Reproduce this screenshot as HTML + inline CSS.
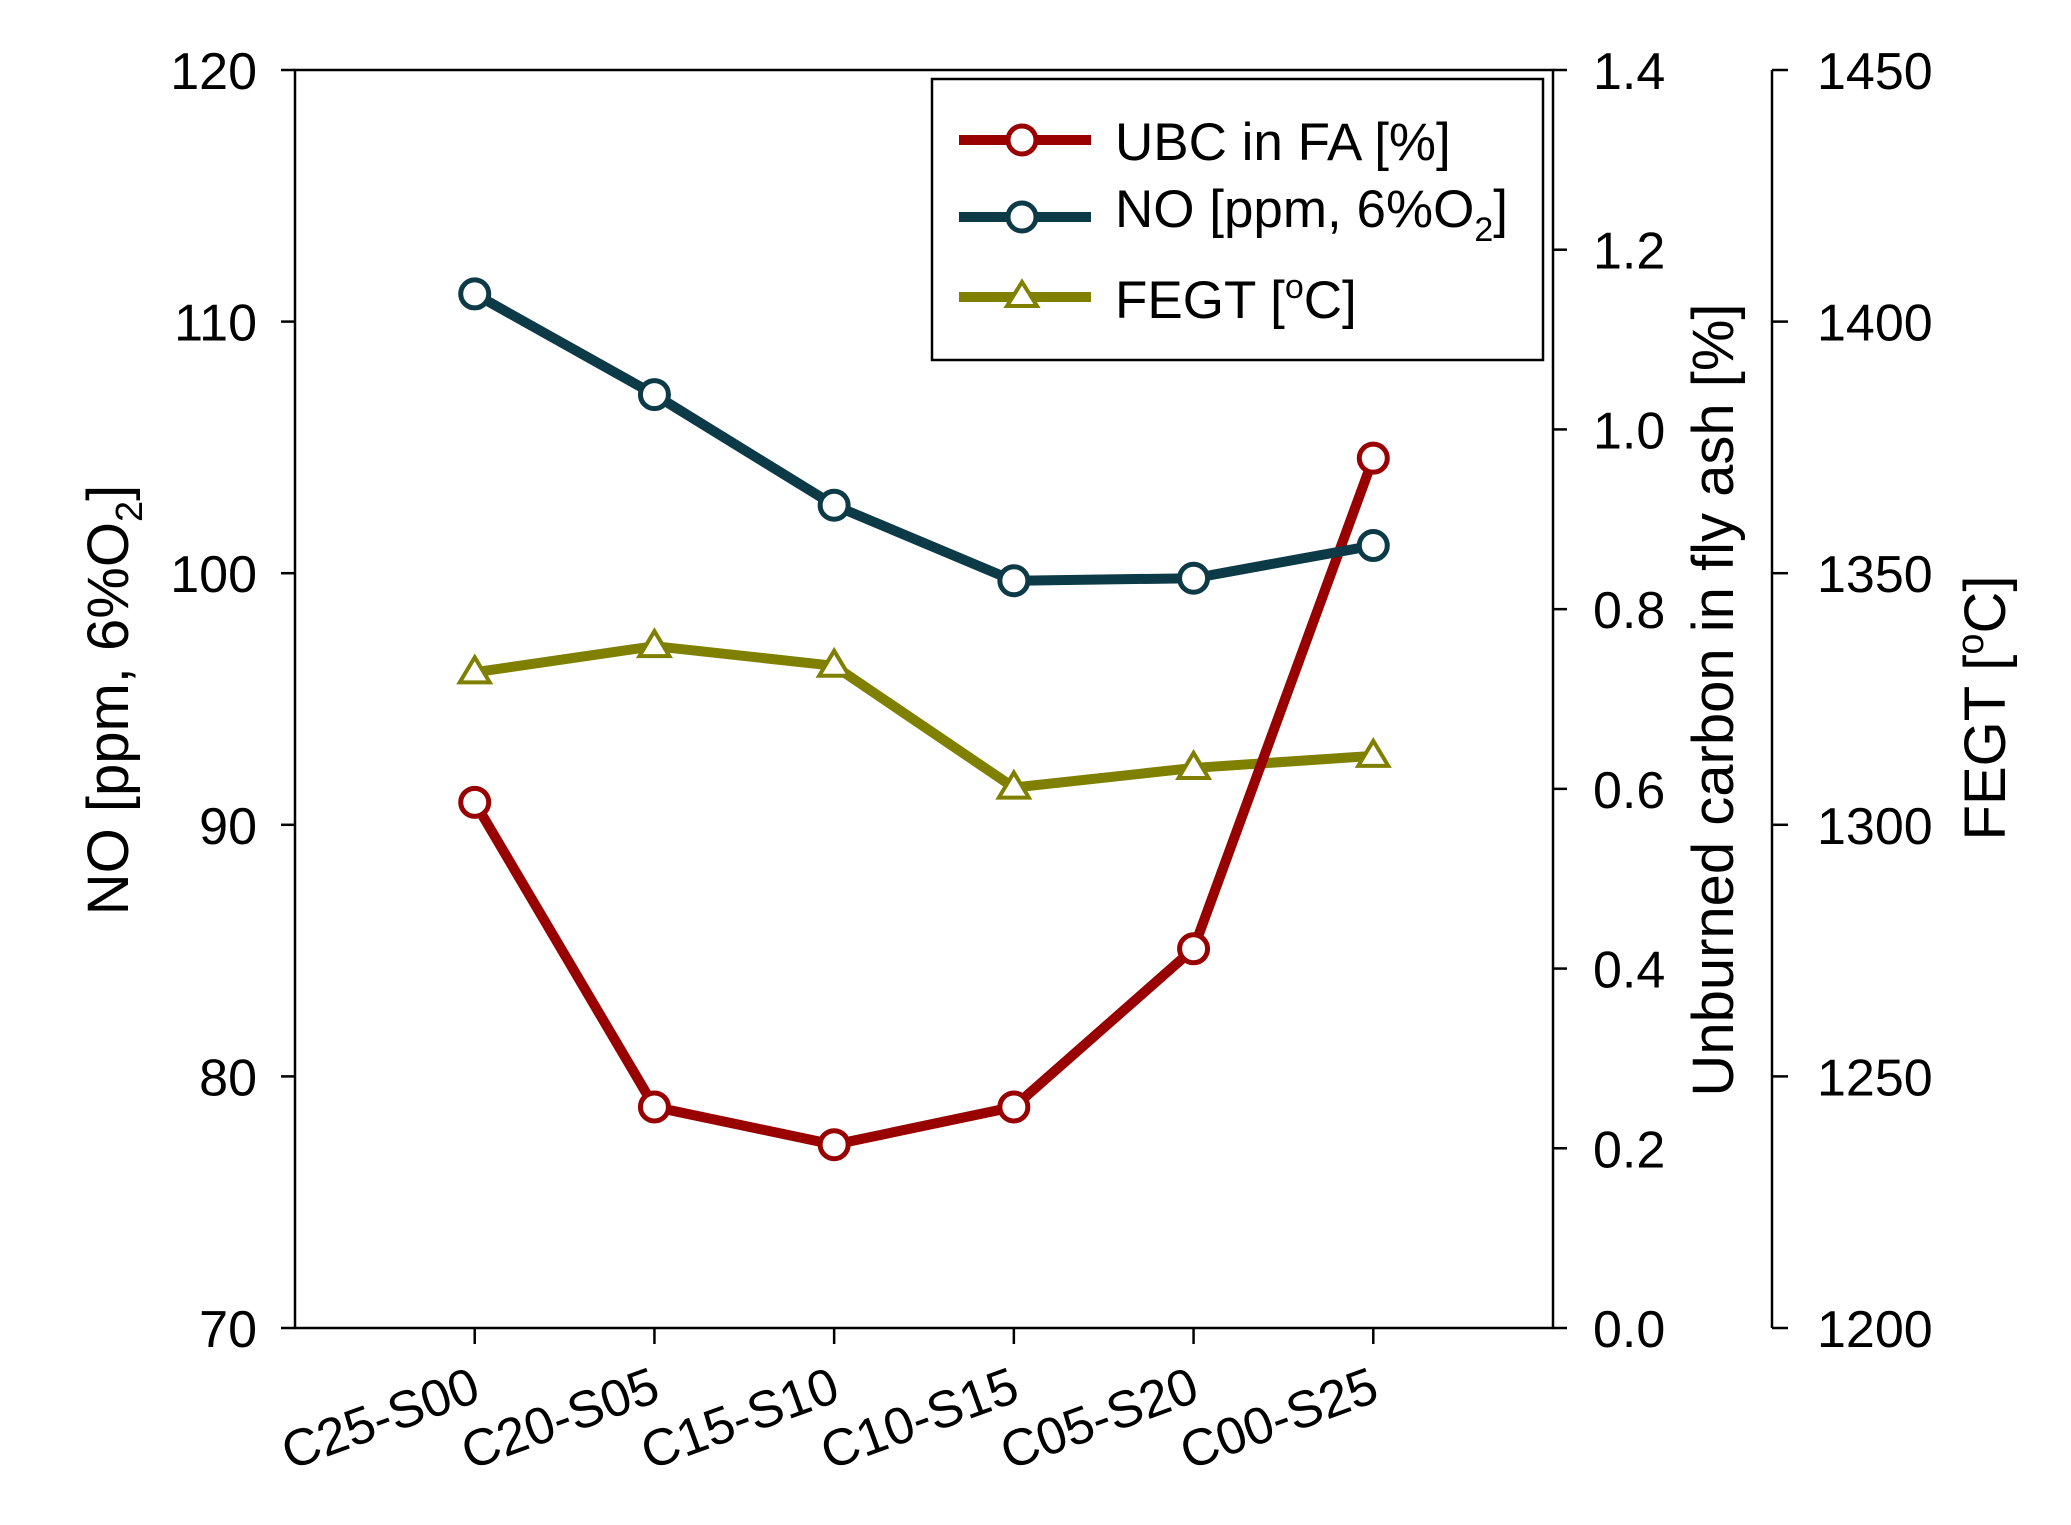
<!DOCTYPE html>
<html><head><meta charset="utf-8"><style>
html,body{margin:0;padding:0;background:#fff}
svg{display:block;font-family:"Liberation Sans",Arial,sans-serif}
</style></head><body>
<svg id="chart" width="2071" height="1525" viewBox="0 0 2071 1525" xmlns="http://www.w3.org/2000/svg">
<g id="axes"></g>
<g id="series"></g>
<g id="legend">
  <rect x="932" y="79" width="611" height="281" fill="#fff" stroke="#000" stroke-width="2.5"/>
  <line x1="959" y1="140" x2="1091" y2="140" stroke="#990000" stroke-width="10"/>
  <circle cx="1022" cy="140" r="14" fill="#fff" stroke="#990000" stroke-width="5"/>
  <text x="1115" y="160" font-size="53">UBC in FA [%]</text>
  <line x1="959" y1="217" x2="1091" y2="217" stroke="#0d3a47" stroke-width="10"/>
  <circle cx="1022" cy="217" r="14" fill="#fff" stroke="#0d3a47" stroke-width="5"/>
  <text x="1115" y="227" font-size="53">NO [ppm, 6%O<tspan font-size="34" dy="14">2</tspan><tspan dy="-14">]</tspan></text>
  <line x1="959" y1="297" x2="1091" y2="297" stroke="#808000" stroke-width="10"/>
  <polygon points="1022,282 1037,306 1007,306" fill="#fff" stroke="#808000" stroke-width="4"/>
  <text x="1115" y="318" font-size="53">FEGT [<tspan font-size="34" dy="-20">o</tspan><tspan dy="20">C]</tspan></text>
</g>
</svg>
<script>
const categories = ["C25-S00","C20-S05","C15-S10","C10-S15","C05-S20","C00-S25"];
const noValues = [111.1, 107.1, 102.7, 99.7, 99.8, 101.1];
const ubcValues = [0.585, 0.246, 0.204, 0.246, 0.422, 0.968];
const fegtValues = [1330.3, 1335.5, 1331.6, 1307.4, 1311.3, 1313.7];
const leftTicks = [70, 80, 90, 100, 110, 120];
const rightTicks = [0.0, 0.2, 0.4, 0.6, 0.8, 1.0, 1.2, 1.4];
const farTicks = [1200, 1250, 1300, 1350, 1400, 1450];

const NS = "http://www.w3.org/2000/svg";
const L = 295, R = 1553, T = 70, B = 1328, FAR = 1772;
const xPos = i => L + (R - L) * (i + 1) / (categories.length + 1);
const yLeft = v => B - (v - 70) / 50 * (B - T);
const yRight = v => B - v / 1.4 * (B - T);
const yFar = v => B - (v - 1200) / 250 * (B - T);
function mk(tag, attrs, parent, text) {
  const e = document.createElementNS(NS, tag);
  for (const k in attrs) e.setAttribute(k, attrs[k]);
  if (text !== undefined) e.textContent = text;
  parent.appendChild(e);
  return e;
}
const ax = document.getElementById('axes');
const se = document.getElementById('series');
const FS = 52;
let e;
e = mk('rect', {x:L, y:T, width:R-L, height:B-T, fill:'none', stroke:'#000', 'stroke-width':2.5}, ax);


e = mk('line', {x1:FAR, y1:T, x2:FAR, y2:B, stroke:'#000', 'stroke-width':2.5}, ax);


leftTicks.forEach(v => {
  const y = yLeft(v);
  e = mk('line', {x1:L-14, y1:y, x2:L, y2:y, stroke:'#000', 'stroke-width':2.5}, ax);
  
  
  e = mk('text', {x:L-38, y:y+19, 'font-size':FS, 'text-anchor':'end'}, ax, String(v));
  
  
});
rightTicks.forEach(v => {
  const y = yRight(v);
  e = mk('line', {x1:R, y1:y, x2:R+14, y2:y, stroke:'#000', 'stroke-width':2.5}, ax);
  
  
  e = mk('text', {x:R+40, y:y+19, 'font-size':FS}, ax, v.toFixed(1));
  
  
});
farTicks.forEach(v => {
  const y = yFar(v);
  e = mk('line', {x1:FAR, y1:y, x2:FAR+16, y2:y, stroke:'#000', 'stroke-width':2.5}, ax);
  
  
  e = mk('text', {x:FAR+45, y:y+19, 'font-size':FS}, ax, String(v));
  
  
});
categories.forEach((c, i) => {
  const x = xPos(i);
  e = mk('line', {x1:x, y1:B, x2:x, y2:B+16, stroke:'#000', 'stroke-width':2.5}, ax);
  
  
  e = mk('text', {x:x+8, y:B+72, 'font-size':FS, 'text-anchor':'end', transform:`rotate(-20 ${x+8} ${B+72})`}, ax, c);
  
  
});
// axis titles
e = mk('text', {x:0, y:0, 'font-size':58, 'text-anchor':'middle', transform:'translate(128 700) rotate(-90)'}, ax);
e.innerHTML = 'NO [ppm, 6%O<tspan font-size="38" dy="14">2</tspan><tspan dy="-14">]</tspan>';


e = mk('text', {x:0, y:0, 'font-size':58, 'text-anchor':'middle', transform:'translate(1733 700) rotate(-90)'}, ax, 'Unburned carbon in fly ash [%]');


e = mk('text', {x:0, y:0, 'font-size':58, 'text-anchor':'middle', transform:'translate(2005 708) rotate(-90)'}, ax);
e.innerHTML = 'FEGT [<tspan font-size="38" dy="-22">o</tspan><tspan dy="22">C]</tspan>';



function drawSeries(vals, yf, color, name, tri) {
  const pts = vals.map((v, i) => [xPos(i), yf(v)]);
  e = mk('polyline', {points:pts.map(p => p.join(',')).join(' '), fill:'none', stroke:color, 'stroke-width':10, 'stroke-linejoin':'round'}, se);
  
  
  pts.forEach(([x, y]) => {
    if (tri) {
      e = mk('polygon', {points:`${x},${y-15} ${x+15},${y+10} ${x-15},${y+10}`, fill:'#fff', stroke:color, 'stroke-width':4}, se);
    } else {
      e = mk('circle', {cx:x, cy:y, r:14, fill:'#fff', stroke:color, 'stroke-width':5}, se);
    }
    
    
  });
}
drawSeries(fegtValues, yFar, '#808000', 'fegt', true);
drawSeries(ubcValues, yRight, '#990000', 'ubc', false);
drawSeries(noValues, yLeft, '#0d3a47', 'no', false);
</script>
</body></html>
